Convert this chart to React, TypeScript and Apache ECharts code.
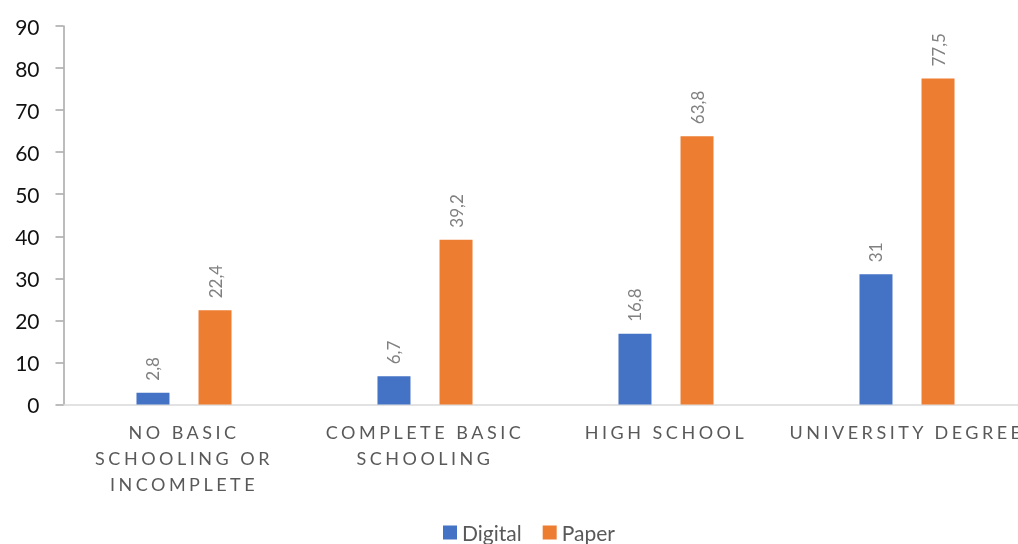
import React, { useEffect, useRef } from "react";
import * as echarts from "echarts";

const categories = [
  "NO BASIC\nSCHOOLING OR\nINCOMPLETE",
  "COMPLETE BASIC\nSCHOOLING",
  "HIGH SCHOOL",
  "UNIVERSITY DEGREE",
];
const digital = [2.8, 6.7, 16.8, 31];
const paper = [22.4, 39.2, 63.8, 77.5];
const seriesNames = ["Digital", "Paper"];
const colors = ["#4472C4", "#ED7D31"];

const FONT = "Lato, 'Open Sans', sans-serif";

export default function App() {
  const ref = useRef<HTMLDivElement>(null);
  useEffect(() => {
    const el = ref.current!;
    const chart = echarts.init(el, null, { renderer: "svg" });
    const labelLines = new Set<string>();
    categories.forEach((c) => c.split("\n").forEach((l) => labelLines.add(l)));

    const fmt = (p: any) => String(p.value).replace(".", ",");
    const dataLabel = {
      show: true,
      position: "top",
      rotate: 90,
      align: "left",
      verticalAlign: "middle",
      distance: 12,
      color: "#808080",
      fontSize: 17,
      fontFamily: FONT,
      formatter: fmt,
    };

    chart.setOption({
      animation: false,
      textStyle: { fontFamily: FONT },
      grid: { left: 63.5, top: 26, width: 964, height: 378.5, containLabel: false },
      legend: {
        data: seriesNames,
        top: 522,
        left: 443,
        padding: 0,
        itemWidth: 14,
        itemHeight: 14,
        itemGap: 21,
        icon: "rect",
        textStyle: { fontSize: 21, color: "#595959", fontFamily: FONT, padding: [0, 0, 0, 0] },
      },
      xAxis: {
        type: "category",
        data: categories,
        axisLine: { show: true, lineStyle: { color: "#D9D9D9", width: 1.5 } },
        axisTick: { show: false },
        axisLabel: {
          interval: 0,
          margin: 14.5,
          fontSize: 18,
          lineHeight: 26,
          color: "#595959",
          fontFamily: FONT,
        },
      },
      yAxis: {
        type: "value",
        min: 0,
        max: 90,
        interval: 10,
        splitLine: { show: false },
        axisLine: { show: true, lineStyle: { color: "#A6A6A6", width: 1.5 } },
        axisTick: { show: true, inside: false, length: 8, lineStyle: { color: "#A6A6A6", width: 1.5 } },
        axisLabel: { margin: 24, fontSize: 21, color: "#111111", fontFamily: FONT },
      },
      series: [
        {
          name: seriesNames[0],
          type: "bar",
          data: digital,
          barWidth: 33,
          barGap: "88%",
          itemStyle: { color: colors[0] },
          label: dataLabel,
        },
        {
          name: seriesNames[1],
          type: "bar",
          data: paper,
          barWidth: 33,
          barGap: "88%",
          itemStyle: { color: colors[1] },
          label: dataLabel,
        },
      ],
    });

    const applySpacing = () => {
      el.querySelectorAll("text").forEach((t) => {
        const s = (t.textContent || "").trim();
        if (labelLines.has(s)) {
          (t as SVGTextElement).style.letterSpacing = "3.5px";
        }
      });
    };
    applySpacing();
    chart.on("finished", applySpacing);
    const raf = requestAnimationFrame(applySpacing);

    return () => {
      cancelAnimationFrame(raf);
      chart.dispose();
    };
  }, []);
  return (
    <div style={{ position: "fixed", left: 0, top: 0, width: 1018, height: 544, overflow: "hidden" }}>
      <div ref={ref} style={{ position: "absolute", left: 0, top: 0, width: 1030, height: 544 }} />
    </div>
  );
}
